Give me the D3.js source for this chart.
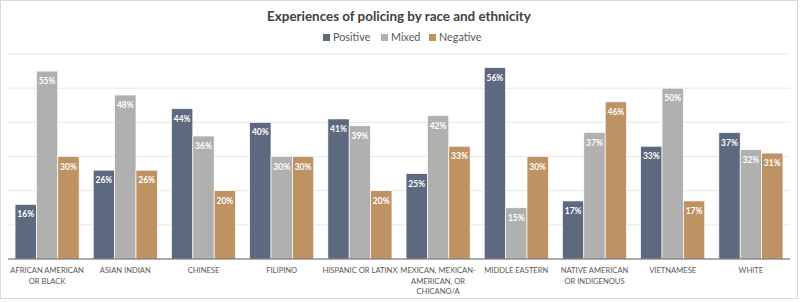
<!DOCTYPE html>
<html>
<head>
<meta charset="utf-8">
<script src="https://cdn.jsdelivr.net/npm/d3@7"></script>
<style>
  body { margin: 0; background: #fff; }
  svg { display: block; font-family: Lato, "Open Sans", sans-serif; }
</style>
</head>
<body>
<div id="chart"></div>
<script>
// data
const groups = ["AFRICAN AMERICAN OR BLACK", "ASIAN INDIAN", "CHINESE", "FILIPINO",
  "HISPANIC OR LATINX", "MEXICAN, MEXICAN-AMERICAN, OR CHICANO/A", "MIDDLE EASTERN",
  "NATIVE AMERICAN OR INDIGENOUS", "VIETNAMESE", "WHITE"];
const groupLines = [["AFRICAN AMERICAN", "OR BLACK"], ["ASIAN INDIAN"], ["CHINESE"], ["FILIPINO"],
  ["HISPANIC OR LATINX"], ["MEXICAN, MEXICAN-", "AMERICAN, OR", "CHICANO/A"], ["MIDDLE EASTERN"],
  ["NATIVE AMERICAN", "OR INDIGENOUS"], ["VIETNAMESE"], ["WHITE"]];
const seriesNames = ["Positive", "Mixed", "Negative"];
const positive = [16, 26, 44, 40, 41, 25, 56, 17, 33, 37];
const mixed    = [55, 48, 36, 30, 39, 42, 15, 37, 50, 32];
const negative = [30, 26, 20, 30, 20, 33, 30, 46, 17, 31];
const yTicks = [0, 10, 20, 30, 40, 50, 60];
const colors = ["#5d697e", "#b0b0b0", "#bf9263"];

const W = 800, H = 302;
const svg = d3.select("#chart").append("svg")
  .attr("width", W).attr("height", H);

// outer frame
svg.append("rect")
  .attr("x", 0.5).attr("y", 0.5)
  .attr("width", W - 3).attr("height", H - 4)
  .attr("fill", "#fff")
  .attr("stroke", "#d9d9d9");

const x0 = d3.scaleBand().domain(groups).range([8, 790])
  .paddingInner(0.18).paddingOuter(0.09);
const x1 = d3.scaleBand().domain(seriesNames).range([0, x0.bandwidth()]);
const y = d3.scaleLinear().domain([0, 60]).range([259, 54]);

// gridlines
svg.append("g").selectAll("line")
  .data(yTicks.slice(1))
  .join("line")
    .attr("x1", 8).attr("x2", 790)
    .attr("y1", d => y(d)).attr("y2", d => y(d))
    .attr("stroke", "#e6e6e6");

const rows = groups.map((g, i) => ({ g: g, vals: [positive[i], mixed[i], negative[i]] }));

const grp = svg.append("g").selectAll("g")
  .data(rows)
  .join("g")
    .attr("transform", d => `translate(${x0(d.g)},0)`);

grp.selectAll("rect")
  .data(d => d.vals.map((v, j) => ({ s: seriesNames[j], v: v, j: j })))
  .join("rect")
    .attr("x", d => x1(d.s))
    .attr("y", d => y(d.v))
    .attr("width", x1.bandwidth())
    .attr("height", d => y(0) - y(d.v))
    .attr("fill", d => colors[d.j])
    .attr("stroke", "#fff")
    .attr("stroke-width", 0.7);

grp.selectAll("text")
  .data(d => d.vals.map((v, j) => ({ s: seriesNames[j], v: v })))
  .join("text")
    .attr("x", d => x1(d.s) + x1.bandwidth() / 2)
    .attr("y", d => y(d.v) + 13)
    .attr("text-anchor", "middle")
    .attr("fill", "#fff")
    .style("font-size", "8.5px")
    .style("font-weight", "bold")
    .text(d => d.v + "%");

// baseline
svg.append("line")
  .attr("x1", 8).attr("x2", 790)
  .attr("y1", y(0)).attr("y2", y(0))
  .attr("stroke", "#595959").attr("stroke-width", 1);

// category labels
const lab = svg.append("g").selectAll("text")
  .data(groups)
  .join("text")
    .attr("x", d => x0(d) + x0.bandwidth() / 2)
    .attr("y", 273)
    .attr("text-anchor", "middle")
    .attr("fill", "#595959")
    .style("font-size", "7.6px");
lab.selectAll("tspan")
  .data((d, i) => groupLines[i])
  .join("tspan")
    .attr("x", function () { return this.parentNode.getAttribute("x"); })
    .attr("dy", (d, i) => i === 0 ? 0 : 10.5)
    .text(d => d);

// title
svg.append("text")
  .attr("x", 399).attr("y", 21)
  .attr("text-anchor", "middle")
  .attr("fill", "#404040")
  .style("font-size", "13.4px")
  .style("font-weight", "bold")
  .text("Experiences of policing by race and ethnicity");

// legend
const legX = [323, 381, 429];
const leg = svg.append("g").selectAll("g")
  .data(seriesNames)
  .join("g")
    .attr("transform", (d, i) => `translate(${legX[i]},34)`);
leg.append("rect")
  .attr("width", 7).attr("height", 7)
  .attr("fill", (d, i) => colors[i]);
leg.append("text")
  .attr("x", 10).attr("y", 7.2)
  .attr("fill", "#595959")
  .style("font-size", "10.8px")
  .text(d => d);
</script>
</body>
</html>
